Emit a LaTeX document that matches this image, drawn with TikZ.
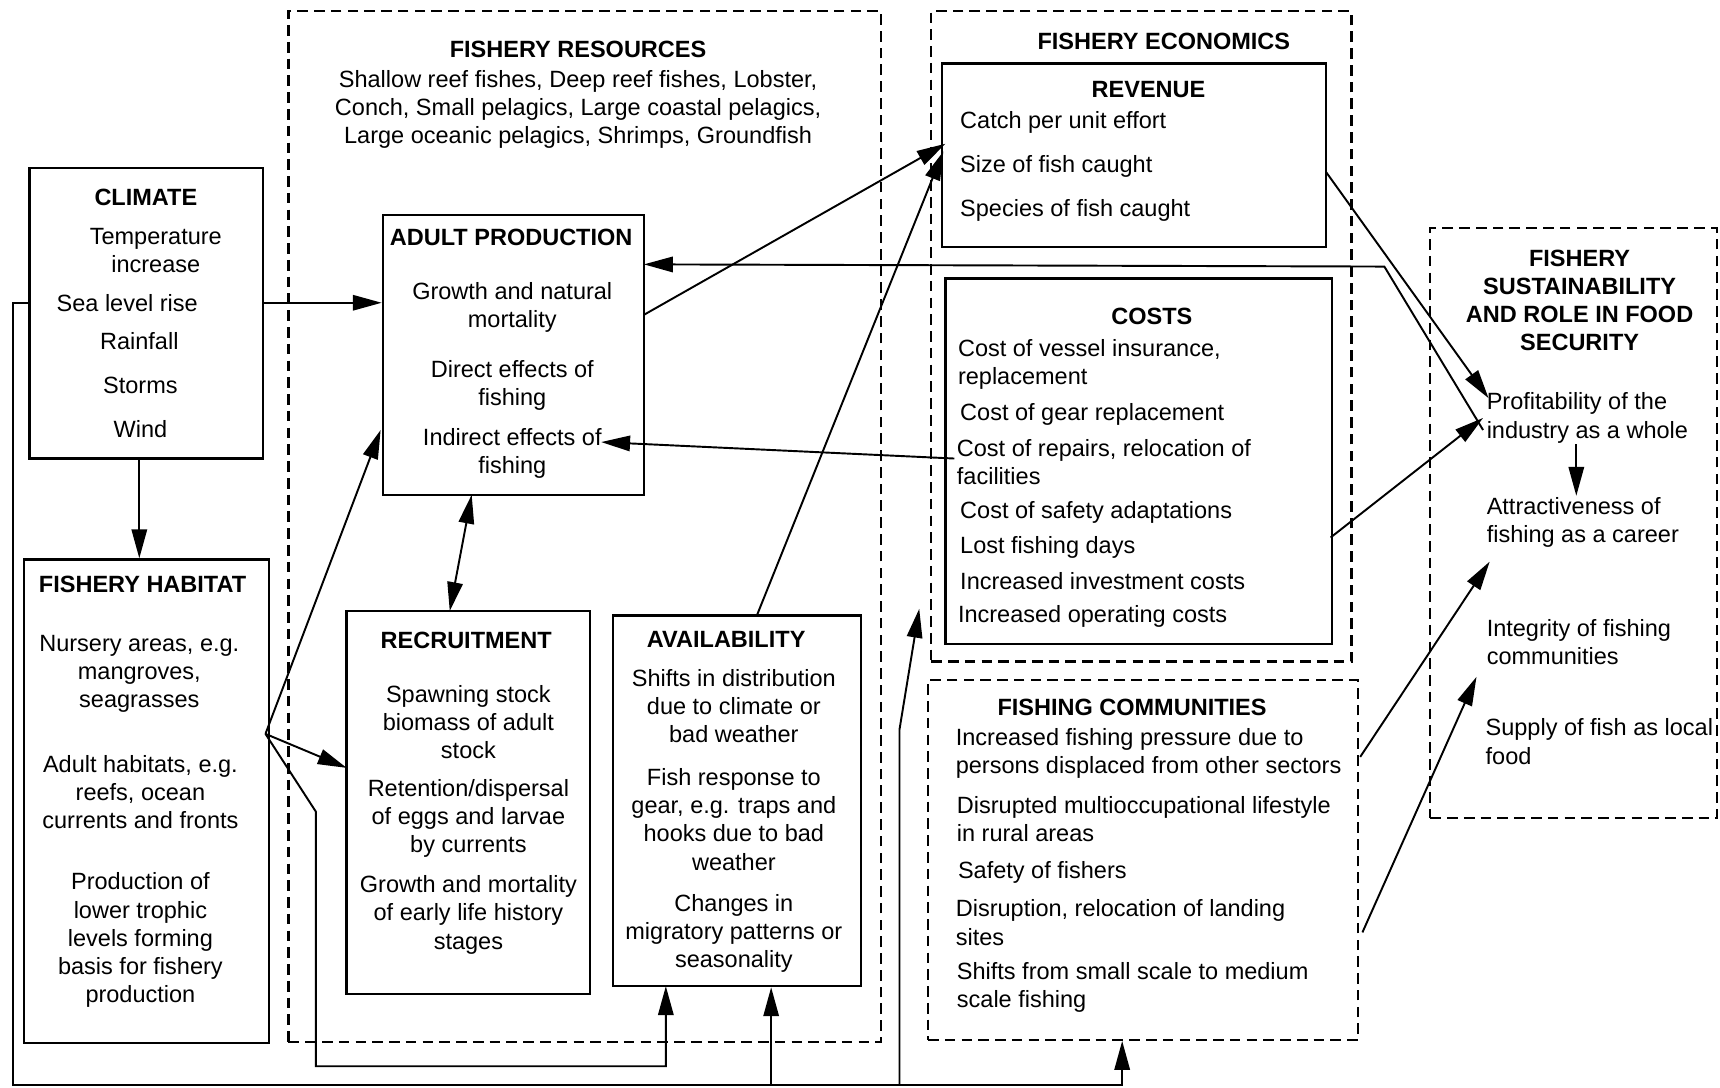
\documentclass[tikz,border=0pt]{standalone}
\usepackage{fontspec}
\setmainfont{Liberation Sans}
\usetikzlibrary{arrows.meta,fit}
\tikzset{
  box/.style={draw, line width=1.2pt, inner sep=0pt},
  dbox/.style={draw, line width=1.1pt, dash pattern=on 5.5pt off 3.2pt, inner sep=0pt},
  txt/.style={inner sep=0pt, align=center, font=\fontsize{12.2}{14.6}\selectfont},
  ltxt/.style={inner sep=0pt, align=left, anchor=west, font=\fontsize{12.2}{14.6}\selectfont},
  ttl/.style={inner sep=0pt, align=center, font=\fontsize{12.2}{14.6}\selectfont\bfseries},
  conn/.style={line width=1pt, -{Triangle[length=15pt,width=8pt]}},
  conn2/.style={line width=1pt, {Triangle[length=15pt,width=8pt]}-{Triangle[length=15pt,width=8pt]}},
  plain/.style={line width=1pt},
}
\begin{document}
\begin{tikzpicture}[x=0.02cm,y=-0.02cm]
\fill[white] (0,0) rectangle (1568,991);
\useasboundingbox (0,0) rectangle (1568,991);

% ---------- boxes ----------
\node[box, fit={(27,153) (240,418)}] (climate) {};
\node[box, fit={(22,510) (245,951)}] (habitat) {};
\node[dbox, fit={(263,10) (803,950)}] (resources) {};
\node[box, fit={(349,196) (587,451)}] (adult) {};
\node[box, fit={(316,557) (538,906)}] (recruit) {};
\node[box, fit={(559,561) (785,899)}] (avail) {};
\node[dbox, fit={(849,10) (1232,603)}] (economics) {};
\node[box, fit={(859,58) (1209,225)}] (revenue) {};
\node[box, fit={(862,254) (1214,587)}] (costs) {};
\node[dbox, fit={(846,620) (1238,948)}] (communities) {};
\node[dbox, fit={(1304,208) (1565,746)}] (sustain) {};

% ---------- climate ----------
\node[ttl] (climT) at (133,180) {CLIMATE};
\node[txt] (temp) at (142,228) {Temperature\\increase};
\node[txt] (sea) at (116,276) {Sea level rise};
\node[txt] (rain) at (127,311) {Rainfall};
\node[txt] (storms) at (128,351) {Storms};
\node[txt] (wind) at (128,391) {Wind};

% ---------- habitat ----------
\node[ttl] (habT) at (130,533) {FISHERY HABITAT};
\node[txt] (nursery) at (127,614) {Nursery areas, e.g.\\mangroves,\\seagrasses};
\node[txt] (adulthab) at (128,722) {Adult habitats, e.g.\\reefs, ocean\\currents and fronts};
\node[txt] (trophic) at (128,857) {Production of\\lower trophic\\levels forming\\basis for fishery\\production};

% ---------- resources ----------
\node[ttl] (resT) at (527,45) {FISHERY RESOURCES};
\node[txt] (species) at (527,100) {Shallow reef fishes, Deep reef fishes, Lobster,\\Conch, Small pelagics, Large coastal pelagics,\\Large oceanic pelagics, Shrimps, Groundfish};

\node[ttl] (adultT) at (466,216) {ADULT PRODUCTION};
\node[txt] (growth) at (467,280) {Growth and natural\\mortality};
\node[txt] (direct) at (467,351) {Direct effects of\\fishing};
\node[txt] (indirect) at (467,413) {Indirect effects of\\fishing};

\node[ttl] (recT) at (425,584) {RECRUITMENT};
\node[txt] (spawn) at (427,658) {Spawning stock\\biomass of adult\\stock};
\node[txt] (retention) at (427,746) {Retention/dispersal\\of eggs and larvae\\by currents};
\node[txt] (early) at (427,834) {Growth and mortality\\of early life history\\stages};

\node[ttl] (avT) at (662,583) {AVAILABILITY};
\node[txt] (shifts) at (669,644) {Shifts in distribution\\due to climate or\\bad weather};
\node[txt] (gear) at (669,747) {Fish response to\\gear, e.g. traps and\\hooks due to bad\\weather};
\node[txt] (migr) at (669,851) {Changes in\\migratory patterns or\\seasonality};

% ---------- economics ----------
\node[ttl] (ecoT) at (1061,38) {FISHERY ECONOMICS};
\node[ttl] (revT) at (1047,82) {REVENUE};
\node[ltxt] (cpue) at (875,112) {Catch per unit effort};
\node[ltxt] (size) at (875,152) {Size of fish caught};
\node[ltxt] (spc) at (875,192) {Species of fish caught};

\node[ttl] (costT) at (1050,288) {COSTS};
\node[ltxt] (c1) at (873,332) {Cost of vessel insurance,\\replacement};
\node[ltxt] (c2) at (875,378) {Cost of gear replacement};
\node[ltxt] (c3) at (872,421) {Cost of repairs, relocation of\\facilities};
\node[ltxt] (c4) at (875,467) {Cost of safety adaptations};
\node[ltxt] (c5) at (875,499) {Lost fishing days};
\node[ltxt] (c6) at (875,530) {Increased investment costs};
\node[ltxt] (c7) at (873,562) {Increased operating costs};

% ---------- communities ----------
\node[ttl] (comT) at (1032,645) {FISHING COMMUNITIES};
\node[ltxt] (f1) at (871,687) {Increased fishing pressure due to\\persons displaced from other sectors};
\node[ltxt] (f2) at (872,747) {Disrupted multioccupational lifestyle\\in rural areas};
\node[ltxt] (f3) at (873,795) {Safety of fishers};
\node[ltxt] (f4) at (871,841) {Disruption, relocation of landing\\sites};
\node[ltxt] (f5) at (872,900) {Shifts from small scale to medium\\scale fishing};

% ---------- sustainability ----------
\node[ttl] (susT) at (1440,274) {FISHERY\\SUSTAINABILITY\\AND ROLE IN FOOD\\SECURITY};
\node[ltxt] (profit) at (1355,381) {Profitability of the\\industry as a whole};
\node[ltxt] (attract) at (1355,476) {Attractiveness of\\fishing as a career};
\node[ltxt] (integ) at (1355,585) {Integrity of fishing\\communities};
\node[ltxt] (supply) at (1354,676) {Supply of fish as local\\food};

% ---------- helper coordinates ----------
\coordinate (lb) at (12,989);
\coordinate (rb) at (1023,989);
\coordinate (b1) at (703,989);
\coordinate (b2) at (820,989);
\coordinate (b2k) at (820,665);
\coordinate (ecoIn) at (838,555);
\coordinate (hr) at (242,669);
\coordinate (hk) at (288,740);
\coordinate (hb) at (288,972);
\coordinate (avL) at (607,899);
\coordinate (adIn) at (347,392);
\coordinate (recIn) at (316,700);
\coordinate (adB) at (430,451);
\coordinate (recTop) at (410,557);
\coordinate (adR) at (587,287);
\coordinate (revIn1) at (862,131);
\coordinate (avTop) at (690,561);
\coordinate (revIn2) at (860,138);
\coordinate (costOut) at (870,418);
\coordinate (indIn) at (548,403);
\coordinate (profOut) at (1352,392);
\coordinate (pk) at (1262,243);
\coordinate (adRin) at (587,241);
\coordinate (revOut) at (1209,157);
\coordinate (profIn1) at (1357,363);
\coordinate (costOut2) at (1213,490);
\coordinate (profIn2) at (1352,381);
\coordinate (profB) at (1437,405);
\coordinate (attrT) at (1437,452);
\coordinate (comOut1) at (1240,690);
\coordinate (attrIn) at (1358,512);
\coordinate (comOut2) at (1242,850);
\coordinate (integIn) at (1346,617);

% ---------- connectors ----------
\draw[conn] (climate.east |- sea) -- (adult.west |- sea);
\draw[conn] (rain |- climate.south) -- (rain |- habitat.north);
\draw[conn] (climate.west |- sea) -| (lb) -- (rb) -- (rb |- communities.south);
\draw[conn] (b1) -- (b1 |- avail.south);
\draw[conn] (b2) -- (b2k) -- (ecoIn);
\draw[conn] (hr) -- (adIn);
\draw[conn] (hr) -- (recIn);
\draw[conn] (hr) -- (hk) -- (hb) -| (avL);
\draw[conn2] (adB) -- (recTop);
\draw[conn] (adR) -- (revIn1);
\draw[conn] (avTop) -- (revIn2);
\draw[conn] (costOut) -- (indIn);
\draw[conn] (profOut) -- (pk) -- (adRin);
\draw[conn] (revOut) -- (profIn1);
\draw[conn] (costOut2) -- (profIn2);
\draw[conn] (profB) -- (attrT);
\draw[conn] (comOut1) -- (attrIn);
\draw[conn] (comOut2) -- (integIn);
\end{tikzpicture}
\end{document}
